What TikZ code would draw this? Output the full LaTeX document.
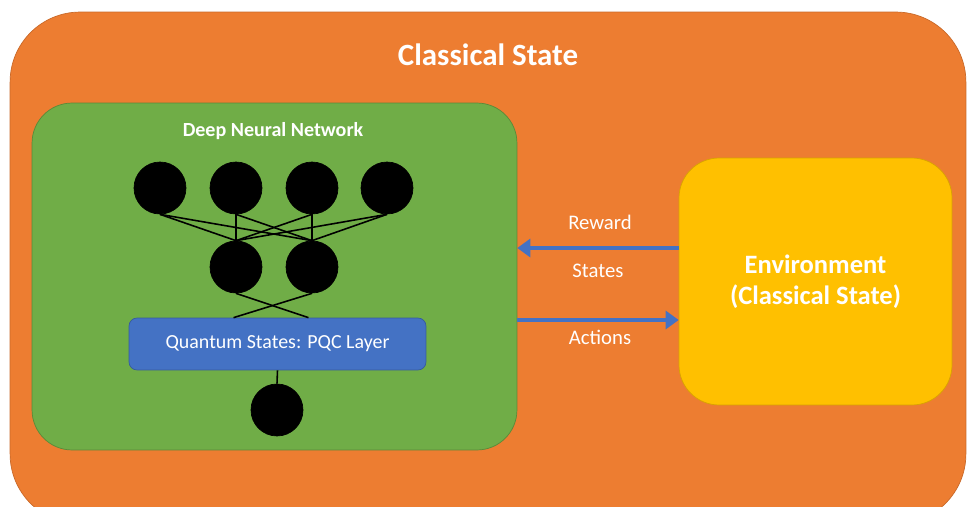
\documentclass[tikz,border=0pt]{standalone}
\usepackage{fontspec}
\setmainfont{Carlito}
\usetikzlibrary{arrows.meta}
\definecolor{stateorange}{HTML}{ED7D31}
\definecolor{dnngreen}{HTML}{70AD47}
\definecolor{envyellow}{HTML}{FFC000}
\definecolor{pqcblue}{HTML}{4472C4}
\tikzset{%
  panel/.style  = {shape=rectangle, draw, align=center, inner sep=0pt},%
  neuron/.style = {circle, fill=black, draw=black, inner sep=0pt, minimum size=1.04cm},%
  link/.style   = {draw=black, line width=0.9pt},%
  flow/.style   = {draw=pqcblue, line width=2.8pt,%
                   -{Triangle[length=0.26cm,width=0.36cm]}}%
}
\begin{document}
\begin{tikzpicture}[x=0.02cm,y=-0.02cm,
	every node/.style = {text=white, font=\fontsize{11.8}{14}\selectfont}]
		\clip (0,0) rectangle (968,507);
		\node [panel, fill=stateorange, draw=stateorange!85!black, rounded corners=1.4cm,
			minimum width=19.12cm, minimum height=10.24cm] (world) at (488,268) {};
		\node [font=\bfseries\fontsize{17.6}{21}\selectfont] (title) at (488,55) {Classical State};
		\node [panel, fill=dnngreen, draw=dnngreen!80!black, rounded corners=0.8cm,
			minimum width=9.7cm, minimum height=6.94cm] (dnn) at (274.5,276.5) {};
		\node [font=\bfseries\fontsize{11.4}{14}\selectfont] (dnnlabel) at (273,131) {Deep Neural Network};
		\node [panel, fill=envyellow, draw=envyellow!85!black, rounded corners=0.8cm,
			minimum width=5.46cm, minimum height=4.94cm,
			font=\bfseries\fontsize{15.1}{17.6}\selectfont] (env) at (815.5,281.5)
			{Environment\\(Classical State)};
		\foreach \n/\x in {1/160,2/236,3/312,4/387}
			\node [neuron] (in\n) at (\x,188) {};
		\node [neuron] (h1) at (236,267) {};
		\node [neuron] (h2) at (312,267) {};
		\node [panel, fill=pqcblue, draw=pqcblue!80!black, rounded corners=0.16cm,
			minimum width=5.94cm, minimum height=1.04cm,
			font=\fontsize{11.35}{14}\selectfont] (pqc) at (277.5,344)
			{Quantum States: PQC Layer};
		\node [neuron] (out) at (277,410) {};
		\foreach \i in {1,...,4}
			\foreach \j in {1,2}
				\draw [link] (in\i.south) -- (h\j.north);
		\draw [link] (h1.south) -- ([xshift=0.62cm]pqc.north);
		\draw [link] (h2.south) -- ([xshift=-0.88cm]pqc.north);
		\draw [link] (pqc.south) -- (out.north);
		\draw [flow] ([yshift=0.67cm]env.west) -- ([yshift=0.67cm]env.west -| dnn.east);
		\draw [flow] ([yshift=-0.77cm]env.west -| dnn.east) -- ([yshift=-0.77cm]env.west);
		\node (reward) at (600,222) {Reward};
		\node (states) at (598,271) {States};
		\node (actions) at (600,337) {Actions};
	\end{tikzpicture}
\end{document}
